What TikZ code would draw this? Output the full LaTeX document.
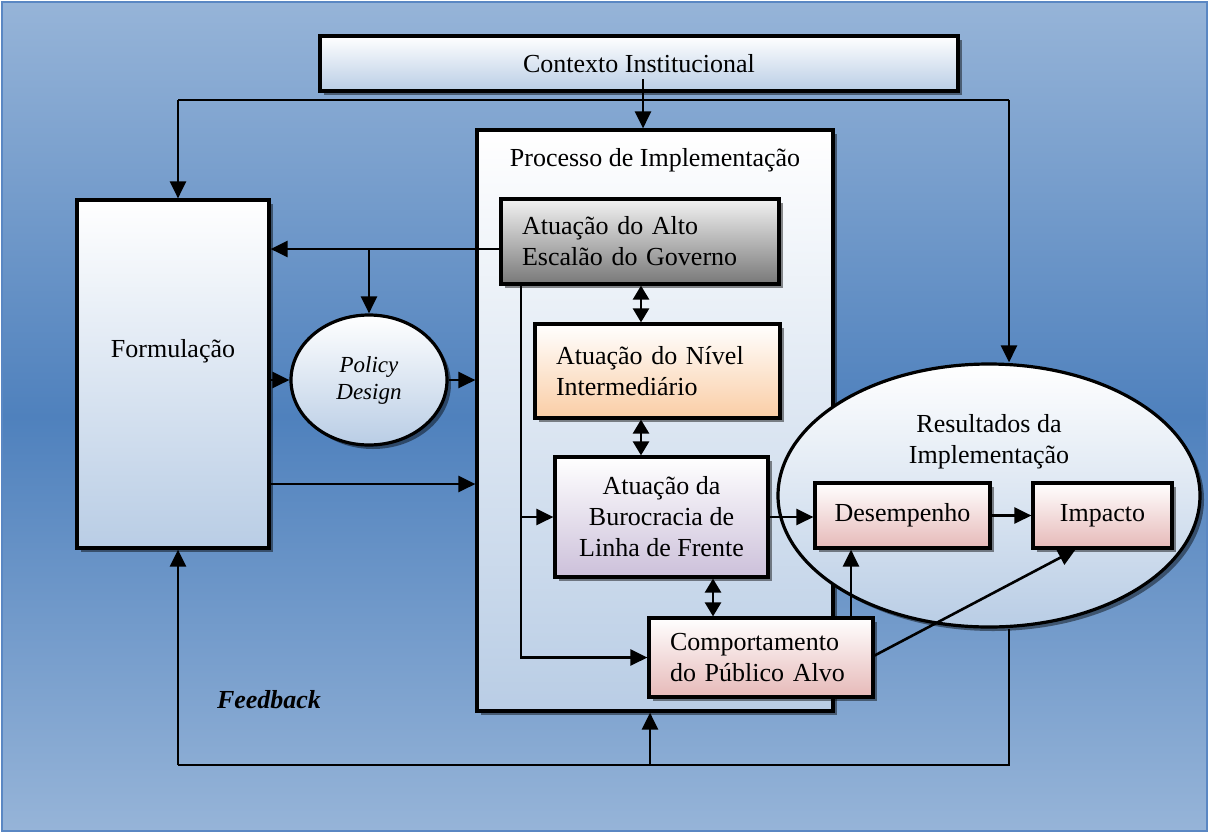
\documentclass[tikz,border=0pt]{standalone}
\usepackage{fontspec}
\setmainfont{Liberation Serif}
\usetikzlibrary{arrows.meta,shapes.geometric,shadows}
\definecolor{bgA}{RGB}{150,180,216}
\definecolor{bgB}{RGB}{79,129,189}
\definecolor{bgLine}{RGB}{90,135,195}
\definecolor{boxblue}{RGB}{185,205,229}
\definecolor{boxgray}{RGB}{120,120,120}
\definecolor{boxpeach}{RGB}{250,205,165}
\definecolor{boxlilac}{RGB}{204,192,218}
\definecolor{boxpink}{RGB}{230,185,184}
\begin{document}
\begin{tikzpicture}[x=1pt,y=-1pt,
  txt/.style={font=\fontsize{26}{31}\selectfont, inner sep=0pt, align=center},
  box/.style={draw=black, line width=3.2pt, rectangle, inner sep=0pt,
    font=\fontsize{26}{31}\selectfont, align=center,
    drop shadow={shadow xshift=4pt, shadow yshift=-4pt, opacity=0.45, fill=black}},
  bluebox/.style={box, top color=white, bottom color=boxblue},
  graybox/.style={box, top color=white!95!black, bottom color=boxgray},
  peachbox/.style={box, top color=white, bottom color=boxpeach},
  lilacbox/.style={box, top color=white, bottom color=boxlilac},
  pinkbox/.style={box, top color=white, bottom color=boxpink},
  ln/.style={line width=2.6pt},
  arr/.style={line width=2.6pt, -{Triangle[length=17pt,width=16pt]}},
  darr/.style={line width=2.6pt, {Triangle[length=14pt,width=16pt]}-{Triangle[length=14pt,width=16pt]}}
]
\useasboundingbox (0,0) rectangle (1209,833);
% background
\shade[top color=bgA, bottom color=bgA, middle color=bgB] (2,2) rectangle (1207,831);
\draw[bgLine, line width=1.5pt] (2,2) rectangle (1207,831);

% nodes
\node[bluebox, minimum width=638pt, minimum height=55pt] (ctx) at (639,63.5) {Contexto Institucional};
\node[bluebox, minimum width=192pt, minimum height=348pt] (form) at (173,374) {};
\node[txt] (formtxt) at (173,351) {Formulação};
\node[bluebox, minimum width=356pt, minimum height=581pt] (proc) at (655,420.5) {};
\node[txt] (proctxt) at (655,160) {Processo de Implementação};
\node[box, ellipse, top color=white, bottom color=boxblue, minimum width=156pt, minimum height=130pt,
  font=\fontsize{23}{27}\selectfont\itshape] (pd) at (369,380) {Policy\\Design};
\node[graybox, minimum width=278pt, minimum height=85pt, inner xsep=21pt, text width=236pt, align=left] (alto) at (640,241.5) {Atuação do Alto\\Escalão do Governo};
\node[peachbox, minimum width=245pt, minimum height=94pt, inner xsep=21pt, text width=203pt, align=left] (niv) at (657.5,371) {Atuação do Nível\\Intermediário};
\node[lilacbox, minimum width=213pt, minimum height=120pt] (buro) at (661.5,517) {Atuação da\\Burocracia de\\Linha de Frente};
\node[pinkbox, minimum width=224pt, minimum height=79pt, inner xsep=21pt, text width=182pt, align=left] (comp) at (761,657.5) {Comportamento\\do Público Alvo};
\node[box, ellipse, top color=white, bottom color=boxblue, minimum width=422pt, minimum height=263pt] (ell) at (989,495.5) {};
\node[txt] (restxt) at (989,442) {Resultados da\\Implementação};
\node[pinkbox, minimum width=175pt, minimum height=65pt] (des) at (902.5,515.5) {Desempenho};
\node[pinkbox, minimum width=139pt, minimum height=65pt] (imp) at (1102.5,515.5) {Impacto};
\node[txt, font=\fontsize{26}{31}\selectfont\bfseries\itshape] (fb) at (269,700) {Feedback};

% helper coordinates
\coordinate (ctxin) at (643,79);
\coordinate (tl) at (178,100);
\coordinate (tr) at (1009,100);
\coordinate (yA) at (0,249);
\coordinate (yF) at (0,484);
\coordinate (xm) at (641,0);
\coordinate (xl) at (521,0);
\coordinate (xb) at (713,0);
\coordinate (xc) at (851,0);
\coordinate (fbr) at (1009,765);
\coordinate (fbl) at (178,765);
\coordinate (fbm) at (650,765);

% connectors
\draw[arr] (ctxin) -- (ctxin |- proc.north);
\draw[ln] (tl) -- (tr);
\draw[arr] (tl) -- (tl |- form.north);
\draw[arr] (tr) -- (tr |- ell.north);
\draw[arr] (alto.west |- yA) -- (form.east |- yA);
\draw[arr] (pd.north |- yA) -- (pd.north);
\draw[arr] (pd.west -| form.east) -- (pd.west);
\draw[arr] (pd.east) -- (pd.east -| proc.west);
\draw[arr] (form.east |- yF) -- (proc.west |- yF);
\draw[darr] (alto.south -| xm) -- (niv.north -| xm);
\draw[darr] (niv.south -| xm) -- (buro.north -| xm);
\draw[arr] (alto.south -| xl) |- (comp.west);
\draw[arr] (buro.west -| xl) -- (buro.west);
\draw[arr] (buro.east) -- (buro.east -| des.west);
\draw[darr] (buro.south -| xb) -- (comp.north -| xb);
\draw[arr] (comp.north -| xc) -- (des.south -| xc);
\draw[arr] (des.east) -- (imp.west);
\draw[arr] ([yshift=2pt]comp.east) -- ([xshift=-27pt]imp.south);
\draw[ln] (fbr |- ell.south) -- (fbr) -- (fbl);
\draw[arr] (fbl) -- (fbl |- form.south);
\draw[arr] (fbm) -- (fbm |- proc.south);
\end{tikzpicture}
\end{document}
